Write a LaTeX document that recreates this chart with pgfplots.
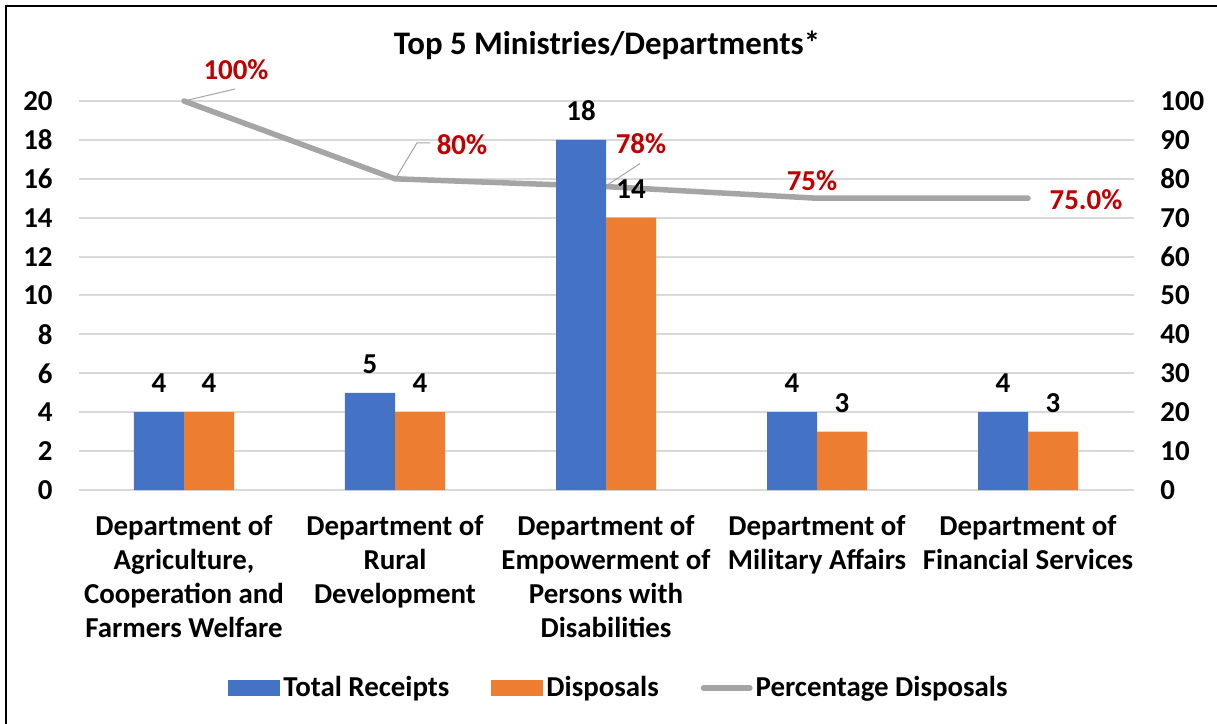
\documentclass[border=0pt]{standalone}
\usepackage{fontspec}
\setmainfont{Carlito}
\usepackage{pgfplots}
\pgfplotsset{compat=1.18}

\definecolor{recblue}{HTML}{4472C4}
\definecolor{disorange}{HTML}{ED7D31}
\definecolor{pctgray}{HTML}{A5A5A5}
\definecolor{lblred}{HTML}{C00000}
\definecolor{gridgray}{HTML}{D9D9D9}

\newcommand{\lblfont}{\bfseries\fontsize{14.5}{17}\selectfont}

\pgfplotsset{
  common/.style={
    at={(0,0)}, anchor=south west,
    scale only axis, width=527.5bp, height=194.5bp,
    xmin=-0.5, xmax=4.5,
    axis line style={draw=none},
    major tick length=0pt,
    /pgf/number format/assume math mode=true,
    tick label style={font=\lblfont},
    clip=false,
  },
}

\begin{document}
\begin{tikzpicture}
% right axis: percentage line first, so it sits behind the bars
\begin{axis}[common,
  ymin=0, ymax=100, ytick={0,10,...,100},
  yticklabel pos=right,
  yticklabel style={anchor=west, inner sep=0pt, xshift=13.25bp},
  xtick=\empty,
  ymajorgrids, grid style={gridgray, line width=1bp},
]
\addplot[pctgray, line width=2.75bp, line join=round, line cap=round,
  nodes near coords={\pgfplotspointmeta\%},
  point meta=explicit symbolic,
  visualization depends on={value \thisrow{dx}\as\dx},
  visualization depends on={value \thisrow{dy}\as\dy},
  every node near coord/.append style={lblred, font=\lblfont, anchor=center,
    inner sep=0pt, xshift=\dx bp, yshift=\dy bp},
] table[x=x, y=y, meta=lbl] {
x y lbl dx dy
0 100 100 26 15.5
1 80 80 33.5 17
2 78 78 17.5 21.5
3 75 75 -2.5 9
4 75 75.0 29 -0.5
};
% leader lines of the labels
\draw[pctgray, line width=0.5bp] (axis cs:0,100) -- ++(25.5bp,6bp);
\draw[pctgray, line width=0.5bp] (axis cs:1,80) ++(0.5bp,0.5bp) -- ++(10.5bp,17.5bp) -- ++(6.5bp,0bp);
\draw[pctgray, line width=0.5bp] (axis cs:2,78) ++(1bp,1bp) -- ++(16bp,10.5bp);
\end{axis}

% left axis: receipts and disposals
\begin{axis}[common,
  ymin=0, ymax=20, ytick={0,2,...,20},
  yticklabel style={anchor=east, inner sep=0pt, xshift=-12.75bp},
  xtick={0,...,4},
  xticklabels={
    {Department of\\Agriculture,\\Cooperation and\\Farmers Welfare},
    {Department of\\Rural\\Development},
    {Department of\\Empowerment of\\Persons with\\Disabilities},
    {Department of\\Military Affairs},
    {Department of\\Financial Services}},
  xticklabel style={align=center, anchor=north, inner sep=0pt, yshift=-12.5bp},
  ybar=0pt, bar width=25bp,
  nodes near coords,
  every node near coord/.append style={black, font=\lblfont, inner sep=0pt, yshift=9.5bp},
  legend style={font=\lblfont, draw=none, fill=none, legend columns=-1,
    at={(0.5128,-0.509)}, anchor=center,
    nodes={inner sep=1.5bp},
    /tikz/every even column/.append style={column sep=19.5bp}},
]
\addplot[fill=recblue, draw=none,
  legend image code/.code={\fill[recblue] (0bp,-4bp) rectangle (26bp,4bp);}]
  coordinates {(0,4) (1,5) (2,18) (3,4) (4,4)};
\addlegendentry{Total Receipts}
\addplot[fill=disorange, draw=none,
  legend image code/.code={\fill[disorange] (0bp,-4bp) rectangle (26bp,4bp);}]
  coordinates {(0,4) (1,4) (2,14) (3,3) (4,3)};
\addlegendentry{Disposals}
\addlegendimage{legend image code/.code={\draw[pctgray, line width=2.75bp, line cap=round] (1.4bp,0bp) -- (24.6bp,0bp);}}
\addlegendentry{Percentage Disposals}
\end{axis}

\node[font=\bfseries\fontsize{16.5}{19}\selectfont] at (264.25bp,222.5bp) {Top 5 Ministries/Departments*};

\pgfresetboundingbox
\path[use as bounding box] (-39.25bp,-117bp) rectangle (569.25bp,245bp);
\draw[overlay, black, line width=1bp] (-36.25bp,-118bp) -- (-36.25bp,242bp) -- (570bp,242bp);
\end{tikzpicture}
\end{document}
